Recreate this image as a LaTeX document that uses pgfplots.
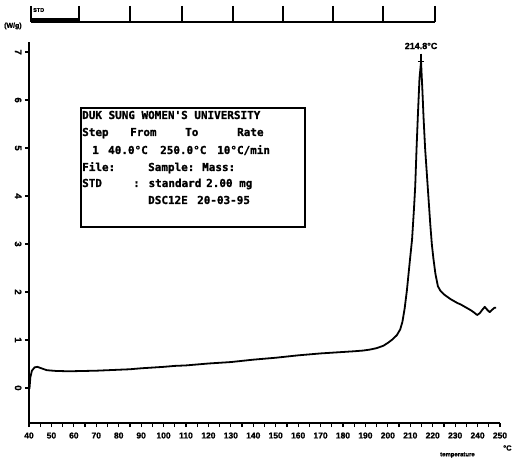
\documentclass[border=0pt]{standalone}
\usepackage{pgfplots}
\pgfplotsset{compat=1.18}
\usepackage{fontspec}
\setmainfont{Liberation Sans}[BoldFeatures={FakeBold=1.2}]
\newfontfamily\mono{DejaVu Sans Mono}[BoldFeatures={FakeBold=1.2}]

% DSC trace of the standard sample (heat flow, W/g, against temperature)
\pgfplotstableread{
T      q
40.2   -0.02
40.6   0.22
41.3   0.36
42.5   0.43
43.8   0.44
45.5   0.41
48     0.37
52     0.355
56     0.35
60     0.35
65     0.355
70     0.36
75     0.37
80     0.38
85     0.39
90     0.41
95     0.425
100    0.44
105    0.46
110    0.47
115    0.49
120    0.51
125    0.525
130    0.54
135    0.565
140    0.59
145    0.61
150    0.63
155    0.655
160    0.68
165    0.70
170    0.72
175    0.735
180    0.75
185    0.765
189    0.78
192    0.80
195    0.83
198    0.88
200    0.94
202    1.01
204    1.10
205.5  1.22
206.5  1.38
207.5  1.66
208.5  2.04
209.7  2.60
210.8  3.10
211.6  3.70
212.2  4.20
212.8  5.00
213.4  5.70
214.1  6.45
214.8  6.80
215.4  6.20
215.9  5.65
216.6  5.00
217.4  4.45
218.2  3.90
218.9  3.42
219.6  3.00
220.3  2.70
221.2  2.38
222.3  2.12
223.5  2.02
225    1.95
226.5  1.90
228    1.85
229.5  1.81
231    1.77
232.5  1.74
234    1.70
235.5  1.66
237    1.62
238.5  1.57
239.8  1.52
241    1.56
242.3  1.64
243.2  1.69
244.3  1.63
245.4  1.58
246.5  1.63
247.5  1.67
248.3  1.67
}\dscdata

\begin{document}
\begin{tikzpicture}
\useasboundingbox (0,0) rectangle (513bp,464bp);

\begin{axis}[
  at={(29bp,41bp)}, anchor=south west,
  scale only axis, width=471bp, height=381bp,
  xmin=40, xmax=250, ymin=-0.73, ymax=7.21,
  axis x line*=bottom, axis y line*=left,
  axis line style={line width=1.4bp},
  xtick={40,50,...,250}, minor x tick num=1,
  ytick={0,1,...,7},
  tick align=outside,
  major tick length=4bp, minor tick length=4bp,
  every tick/.style={black, line width=1.2bp},
  /pgf/number format/assume math mode=true,
  /pgf/number format/1000 sep={},
  ticklabel style={font=\bfseries\fontsize{8.5}{8.5}\selectfont},
  xticklabel style={yshift=-2bp},
  yticklabel style={rotate=-90, anchor=north, xshift=0bp,
    font=\bfseries\fontsize{9.5}{9.5}\selectfont},
  clip=false,
]
\addplot[black, line width=1.8bp, line join=round] table[x=T, y=q] {\dscdata};
% peak marker and its temperature
\addplot[only marks, mark=+, mark size=8bp,
  mark options={xscale=0.4, line width=1.5bp}]
  coordinates {(214.8,6.8)}
  node[pos=0, above, yshift=9bp, font=\bfseries\fontsize{9}{9}\selectfont] {214.8°C};
\end{axis}

% annotations laid out in page units (origin top left, y downwards)
\begin{scope}[x=1bp, y=-1bp, yshift=464bp]
  % program bar along the top
  \draw[line width=1.6bp] (31,22) -- (435,22);
  \draw[line width=3bp] (31,20) -- (79,20);
  \foreach \xx in {31,79,130,182,233,283,333,383,435}
    \draw[line width=1.4bp] (\xx,6) -- (\xx,22.5);
  \node[anchor=west, inner sep=0pt, font=\bfseries\fontsize{5.5}{5.5}\selectfont] at (33,10) {STD};
  \node[anchor=west, inner sep=0pt, font=\bfseries\fontsize{7}{7}\selectfont] at (4,26) {(W/g)};
  % axis caption
  \node[anchor=west, inner sep=0pt, font=\bfseries\fontsize{6}{6}\selectfont] at (440,455) {temperature};
  \node[anchor=west, inner sep=0pt, font=\bfseries\fontsize{7.5}{7.5}\selectfont] at (503,448) {°C};

  % run information box
  \draw[line width=1.6bp] (81,108) rectangle (305,227);
  \begin{scope}[every node/.style={anchor=base west, inner sep=0pt,
      font=\mono\bfseries\fontsize{11}{11}\selectfont}]
    \node at (82,119) {DUK SUNG WOMEN'S UNIVERSITY};
    \node at (82,136) {Step};
    \node at (130,136) {From};
    \node at (185,136) {To};
    \node at (237,136) {Rate};
    \node at (92,154) {1};
    \node at (108,154) {40.0°C};
    \node at (160,154) {250.0°C};
    \node at (217,154) {10°C/min};
    \node at (82,171) {File:};
    \node at (148,171) {Sample:};
    \node at (202,171) {Mass:};
    \node at (82,187) {STD};
    \node at (133,187) {: standard};
    \node at (206,187) {2.00 mg};
    \node at (148,204) {DSC12E};
    \node at (197,204) {20-03-95};
  \end{scope}
\end{scope}
\end{tikzpicture}
\end{document}
